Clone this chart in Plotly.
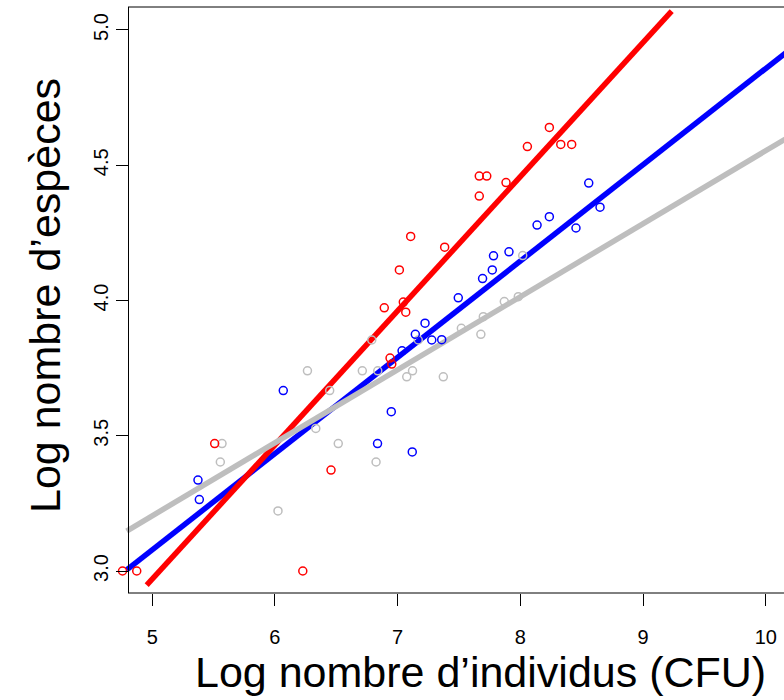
import plotly.graph_objects as go

# ---- data ----
red_x = [8.236, 8.057, 8.329, 8.418, 7.665, 7.726, 7.883, 7.665, 7.106, 7.383, 7.014,
         6.891, 7.046, 7.066, 6.938, 6.952, 5.509, 6.457, 4.758, 4.874, 6.227]
red_y = [4.640, 4.569, 4.577, 4.577, 4.460, 4.460, 4.436, 4.386, 4.237, 4.197, 4.113,
         3.973, 3.994, 3.957, 3.787, 3.765, 3.471, 3.373, 3.000, 3.000, 3.000]

blue_x = [8.557, 8.649, 8.236, 8.136, 8.453, 7.781, 7.907, 7.771, 7.692, 7.494, 7.223,
          7.144, 7.278, 7.359, 7.036, 6.948, 6.068, 5.373, 5.384, 6.836, 7.119]
blue_y = [4.434, 4.345, 4.310, 4.279, 4.268, 4.165, 4.180, 4.113, 4.081, 4.010, 3.916,
          3.875, 3.854, 3.855, 3.814, 3.589, 3.667, 3.336, 3.264, 3.471, 3.440]

gray_x = [8.019, 7.983, 7.869, 7.698, 7.519, 7.678, 7.168, 6.789, 6.712, 6.838, 7.121,
          7.074, 7.372, 6.265, 6.446, 6.333, 5.569, 6.516, 5.555, 6.824, 6.025]
gray_y = [4.166, 4.014, 3.996, 3.940, 3.897, 3.875, 3.854, 3.854, 3.740, 3.740, 3.740,
          3.718, 3.718, 3.740, 3.667, 3.527, 3.471, 3.471, 3.403, 3.403, 3.222]

# regression lines: (intercept, slope, x_start, x_end)
red_fit = (0.490, 0.496, 4.955, 9.233)
blue_fit = (1.298, 0.356, 4.792, 10.6)
gray_fit = (1.854, 0.270, 4.792, 10.6)

x_ticks = [5, 6, 7, 8, 9, 10]
y_ticks = [3.0, 3.5, 4.0, 4.5, 5.0]
y_tick_text = ["3.0", "3.5", "4.0", "4.5", "5.0"]

RED = "#FF0000"
BLUE = "#0000FF"
GRAY = "#BEBEBE"
FONT = "Liberation Sans, Arial, sans-serif"

# layout geometry (pixels)
W, H = 784, 700
ML, MT, MB = 110, 7, 107
AXIS_PX = 128                      # where the left box edge / y axis sits
PW = W - ML
PH = H - MT - MB
ax_pos = (AXIS_PX - ML) / PW

fig = go.Figure()


def fit_line(fit, color):
    a, b, x0, x1 = fit
    xs = [x0, x1]
    ys = [a + b * x for x in xs]
    fig.add_trace(go.Scatter(x=xs, y=ys, mode="lines",
                             line=dict(color=color, width=5.5),
                             hoverinfo="skip", showlegend=False))


fit_line(blue_fit, BLUE)
fit_line(red_fit, RED)
fit_line(gray_fit, GRAY)

for xs, ys, col in [(gray_x, gray_y, GRAY), (blue_x, blue_y, BLUE), (red_x, red_y, RED)]:
    fig.add_trace(go.Scatter(x=xs, y=ys, mode="markers",
                             marker=dict(symbol="circle-open", size=8,
                                         color=col, line=dict(color=col, width=1.5)),
                             showlegend=False))

fig.update_layout(
    width=W, height=H,
    margin=dict(l=ML, r=0, t=MT, b=MB),
    plot_bgcolor="white", paper_bgcolor="white",
    font=dict(family=FONT, color="black"),
    showlegend=False,
)

fig.update_xaxes(
    range=[5 - (152.2 - ML) / 122.72, 10.148], showgrid=False, zeroline=False,
    showline=False,
    ticks="outside", ticklen=12, tickwidth=1, tickcolor="black",
    tickvals=x_ticks, ticktext=[str(v) for v in x_ticks],
    tickfont=dict(size=20, family=FONT, color="black"),
    ticklabelstandoff=14,
)
fig.update_yaxes(
    range=[2.9187, 5.085], showgrid=False, zeroline=False,
    anchor="free", position=ax_pos,
    showline=True, linecolor="black", linewidth=1, mirror=False,
    ticks="outside", ticklen=12, tickwidth=1, tickcolor="black",
    tickvals=y_ticks, ticktext=y_tick_text, tickangle=-90,
    tickfont=dict(size=20, family=FONT, color="black"),
    ticklabelstandoff=0,
)

# box: bottom and top edges
for yy in (0, 1):
    fig.add_shape(type="line", xref="paper", yref="paper",
                  x0=ax_pos, x1=1, y0=yy, y1=yy,
                  line=dict(color="black", width=1))

# axis titles
fig.add_annotation(text="Log nombre d’individus (CFU)", xref="paper", yref="paper",
                   x=(480 - ML) / PW, y=(593 - 672) / PH,
                   xanchor="center", yanchor="middle", showarrow=False,
                   font=dict(size=43, family=FONT, color="black"))
fig.add_annotation(text="Log nombre d’espèces", xref="paper", yref="paper",
                   x=(45 - ML) / PW, y=(593 - 296) / PH, textangle=-90,
                   xanchor="center", yanchor="middle", showarrow=False,
                   font=dict(size=43, family=FONT, color="black"))

fig.write_html("out.html", config={"displayModeBar": False},
               post_script="document.body.style.margin='0';")
